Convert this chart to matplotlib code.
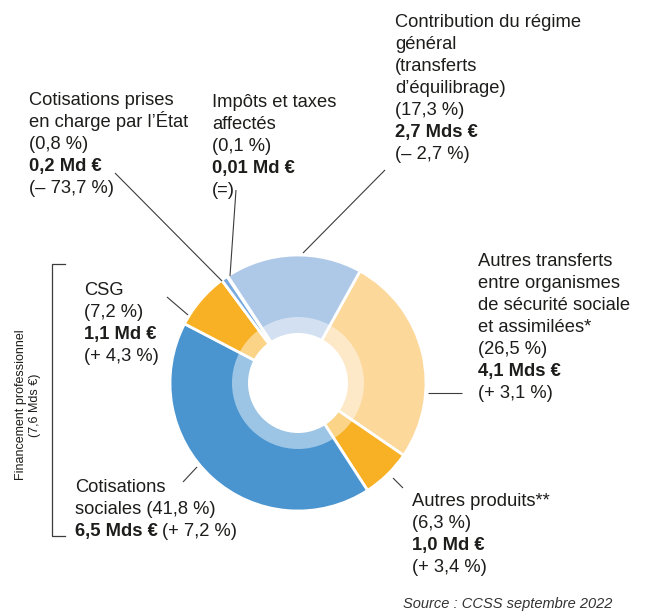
import matplotlib
matplotlib.use("Agg")
import matplotlib.pyplot as plt
from matplotlib.patches import Circle

# ----------------------------
# Ressources (clockwise, starting after "Contribution du régime général")
# ----------------------------
categories = [
    "Autres transferts", "Autres produits", "Cotisations sociales", "CSG",
    "Cotisations prises en charge", "Impôts et taxes", "Contribution du régime général",
]
shares = [26.5, 6.3, 41.8, 7.2, 0.8, 0.1, 17.3]          # % of total
amounts = ["4,1 Mds €", "1,0 Md €", "6,5 Mds €", "1,1 Md €", "0,2 Md €", "0,01 Md €", "2,7 Mds €"]
changes = ["(+ 3,1 %)", "(+ 3,4 %)", "(+ 7,2 %)", "(+ 4,3 %)", "(– 73,7 %)", "(=)", "(– 2,7 %)"]
name_lines = [
    ["Autres transferts", "entre organismes", "de sécurité sociale", "et assimilées*"],
    ["Autres produits**"],
    ["Cotisations"],
    ["CSG"],
    ["Cotisations prises", "en charge par l’État"],
    ["Impôts et taxes", "affectés"],
    ["Contribution du régime", "général", "(transferts", "d’équilibrage)"],
]
colors = ["#FCD89B", "#F8B125", "#4A95D0", "#F8B125", "#78AADF", "#9DBFE6", "#AEC8E8"]

source_txt = "Source : CCSS septembre 2022"
bracket_txt = "Financement professionnel\n(7,6 Mds €)"

# ----------------------------
# Layout (pixel frame, y measured from the top)
# ----------------------------
W, H = 645, 614
cx, cy = 298, 383
r_out, r_band, r_hole = 128, 66, 50
line_h = 22
font = "Liberation Sans"
fs = 13.2
txt_col = "#1d1d1b"

# left x, first baseline of each label block
label_pos = [(478, 266), (412, 506), (75, 492), (84, 295), (29, 105), (212, 107), (395, 27)]
# leader lines (text side -> ring side)
leaders = [
    [(462, 393), (428, 393)],
    [(403, 488), (393, 478)],
    [(183, 482), (197, 467)],
    [(167, 297), (188, 315)],
    [(115, 173), (222, 281)],
    [(236, 190), (230, 276)],
    [(385, 170), (303, 253)],
]


def fy(y):
    return H - y


fig = plt.figure(figsize=(W / 100, H / 100), dpi=100)
ax = fig.add_axes([0, 0, 1, 1])

# full pie, white separators
ax.pie(shares, colors=colors, radius=r_out, center=(cx, fy(cy)),
       startangle=61, counterclock=False,
       wedgeprops=dict(edgecolor="white", linewidth=2.0))
# lighter inner band, then the hole
ax.add_patch(Circle((cx, fy(cy)), r_band, facecolor="white", edgecolor="none", alpha=0.45))
ax.add_patch(Circle((cx, fy(cy)), r_hole, facecolor="white", edgecolor="none"))

ax.set_xlim(0, W)
ax.set_ylim(0, H)
ax.set_aspect("equal")
ax.axis("off")

# leader lines
for seg in leaders:
    xs = [p[0] for p in seg]
    ys = [fy(p[1]) for p in seg]
    ax.plot(xs, ys, color="#3c3c3c", linewidth=0.8, solid_capstyle="butt")


def fmt_pct(v):
    return f"({v:.1f} %)".replace(".", ",")


renderer = fig.canvas.get_renderer()
for i, (x0, y0) in enumerate(label_pos):
    if categories[i] == "Cotisations sociales":
        rows = [("Cotisations", "normal"),
                ("sociales " + fmt_pct(shares[i]), "normal")]
        for k, (t, w) in enumerate(rows):
            ax.text(x0, fy(y0 + k * line_h), t, fontsize=fs, fontweight=w,
                    family=font, color=txt_col, va="baseline")
        yb = fy(y0 + 2 * line_h)
        bold = ax.text(x0, yb, amounts[i], fontsize=fs, fontweight="bold",
                       family=font, color=txt_col, va="baseline")
        bb = bold.get_window_extent(renderer)
        ax.text(bb.x1 + 4, yb, changes[i], fontsize=fs, family=font,
                color=txt_col, va="baseline")
        continue
    rows = [(t, "normal") for t in name_lines[i]]
    rows += [(fmt_pct(shares[i]), "normal"), (amounts[i], "bold"), (changes[i], "normal")]
    for k, (t, w) in enumerate(rows):
        ax.text(x0, fy(y0 + k * line_h), t, fontsize=fs, fontweight=w,
                family=font, color=txt_col, va="baseline")

# bracket grouping the professional financing
ax.plot([65, 52, 52, 65], [fy(264), fy(264), fy(536), fy(536)],
        color="#3c3c3c", linewidth=0.9)
ax.text(28, fy(405), bracket_txt, rotation=90, ha="center", va="center",
        fontsize=9, family=font, color=txt_col, multialignment="center",
        linespacing=1.15)

ax.text(612, fy(608), source_txt, ha="right", va="baseline", fontsize=10.5,
        family=font, style="italic", color="#333333")

fig.savefig("out.png", dpi=100)
